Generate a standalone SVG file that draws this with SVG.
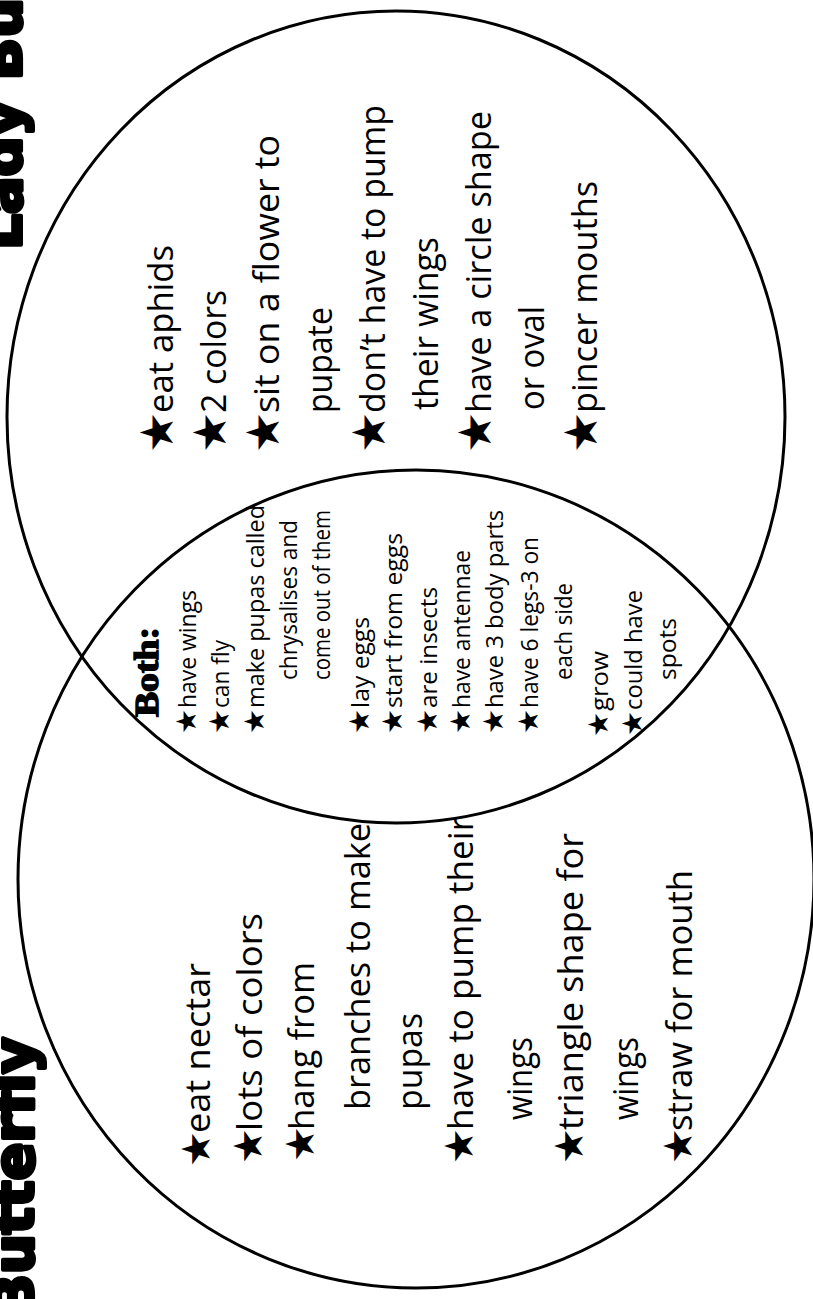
<svg xmlns="http://www.w3.org/2000/svg" width="813" height="1299" viewBox="0 0 813 1299">
<style>
.c{fill:none;stroke:#000;stroke-width:3}
.t{font-family:"Open Sans","Noto Sans",sans-serif;font-size:34px;fill:#000}
.s{font-family:"DejaVu Sans",sans-serif;fill:#000}
.su{font-size:46px}
.sl{font-size:40px}
.sb{font-size:28px}
.b{font-family:"Open Sans","Noto Sans",sans-serif;font-size:24px;fill:#000}
.h{font-family:"Liberation Serif","DejaVu Serif",serif;font-weight:bold;font-size:34px;fill:#000;stroke:#000;stroke-width:1.5}
.ti{font-family:"DejaVu Sans",sans-serif;font-weight:bold;font-size:56px;fill:#000;stroke:#000;stroke-width:4;stroke-linejoin:round}
</style>
<rect width="813" height="1299" fill="#fff"/>
<g id="titles">
<text class="ti" transform="translate(21 250) rotate(-90)">Lady Bug</text>
<text class="ti" text-anchor="end" transform="translate(33 1037) rotate(-90)">Butterfly</text>
</g>
<g id="connectors">
<ellipse id="circle-ladybug" class="c" cx="396" cy="417" rx="389" ry="406"/>
<ellipse id="circle-butterfly" class="c" cx="416" cy="879" rx="398" ry="409"/>
</g>
<g id="ladybug">
<text class="s su" transform="translate(173 453) rotate(-90)">★</text>
<text class="t" transform="translate(173 413) rotate(-90)" textLength="168" lengthAdjust="spacingAndGlyphs">eat aphids</text>
<text class="s su" transform="translate(226 453) rotate(-90)">★</text>
<text class="t" transform="translate(226 413) rotate(-90)" textLength="123" lengthAdjust="spacingAndGlyphs">2 colors</text>
<text class="s su" transform="translate(279 453) rotate(-90)">★</text>
<text class="t" transform="translate(279 413) rotate(-90)" textLength="278" lengthAdjust="spacingAndGlyphs">sit on a flower to</text>
<text class="t" transform="translate(332 413) rotate(-90)" textLength="106" lengthAdjust="spacingAndGlyphs">pupate</text>
<text class="s su" transform="translate(385 453) rotate(-90)">★</text>
<text class="t" transform="translate(385 413) rotate(-90)" textLength="308" lengthAdjust="spacingAndGlyphs">don’t have to pump</text>
<text class="t" transform="translate(438 410) rotate(-90)" textLength="173" lengthAdjust="spacingAndGlyphs">their wings</text>
<text class="s su" transform="translate(491 453) rotate(-90)">★</text>
<text class="t" transform="translate(491 413) rotate(-90)" textLength="302" lengthAdjust="spacingAndGlyphs">have a circle shape</text>
<text class="t" transform="translate(544 410) rotate(-90)" textLength="104" lengthAdjust="spacingAndGlyphs">or oval</text>
<text class="s su" transform="translate(597 453) rotate(-90)">★</text>
<text class="t" transform="translate(597 413) rotate(-90)" textLength="232" lengthAdjust="spacingAndGlyphs">pincer mouths</text>
</g>
<g id="both">
<text class="h" transform="translate(158 717) rotate(-90)" textLength="90" lengthAdjust="spacingAndGlyphs">Both:</text>
<text class="s sb" transform="translate(196 734) rotate(-90)">★</text>
<text class="b" transform="translate(196 708) rotate(-90)" textLength="118" lengthAdjust="spacingAndGlyphs">have wings</text>
<text class="s sb" transform="translate(229 734) rotate(-90)">★</text>
<text class="b" transform="translate(229 708) rotate(-90)" textLength="68" lengthAdjust="spacingAndGlyphs">can fly</text>
<text class="s sb" transform="translate(264 734) rotate(-90)">★</text>
<text class="b" transform="translate(264 708) rotate(-90)" textLength="203" lengthAdjust="spacingAndGlyphs">make pupas called</text>
<text class="b" transform="translate(297 680) rotate(-90)" textLength="160" lengthAdjust="spacingAndGlyphs">chrysalises and</text>
<text class="b" transform="translate(330 680) rotate(-90)" textLength="170" lengthAdjust="spacingAndGlyphs">come out of them</text>
<text class="s sb" transform="translate(369 734) rotate(-90)">★</text>
<text class="b" transform="translate(369 708) rotate(-90)" textLength="91" lengthAdjust="spacingAndGlyphs">lay eggs</text>
<text class="s sb" transform="translate(402 734) rotate(-90)">★</text>
<text class="b" transform="translate(402 708) rotate(-90)" textLength="175" lengthAdjust="spacingAndGlyphs">start from eggs</text>
<text class="s sb" transform="translate(437 734) rotate(-90)">★</text>
<text class="b" transform="translate(437 708) rotate(-90)" textLength="121" lengthAdjust="spacingAndGlyphs">are insects</text>
<text class="s sb" transform="translate(470 734) rotate(-90)">★</text>
<text class="b" transform="translate(470 708) rotate(-90)" textLength="158" lengthAdjust="spacingAndGlyphs">have antennae</text>
<text class="s sb" transform="translate(503 734) rotate(-90)">★</text>
<text class="b" transform="translate(503 708) rotate(-90)" textLength="198" lengthAdjust="spacingAndGlyphs">have 3 body parts</text>
<text class="s sb" transform="translate(538 734) rotate(-90)">★</text>
<text class="b" transform="translate(538 708) rotate(-90)" textLength="171" lengthAdjust="spacingAndGlyphs">have 6 legs-3 on</text>
<text class="b" transform="translate(572 680) rotate(-90)" textLength="97" lengthAdjust="spacingAndGlyphs">each side</text>
<text class="s sb" transform="translate(608 737) rotate(-90)">★</text>
<text class="b" transform="translate(608 711) rotate(-90)" textLength="60" lengthAdjust="spacingAndGlyphs">grow</text>
<text class="s sb" transform="translate(642 736) rotate(-90)">★</text>
<text class="b" transform="translate(642 710) rotate(-90)" textLength="120" lengthAdjust="spacingAndGlyphs">could have</text>
<text class="b" transform="translate(676 680) rotate(-90)" textLength="62" lengthAdjust="spacingAndGlyphs">spots</text>
</g>
<g id="butterfly">
<text class="s sl" transform="translate(210 1167) rotate(-90)">★</text>
<text class="t" transform="translate(210 1133) rotate(-90)" textLength="170" lengthAdjust="spacingAndGlyphs">eat nectar</text>
<text class="s sl" transform="translate(262 1164) rotate(-90)">★</text>
<text class="t" transform="translate(262 1131) rotate(-90)" textLength="218" lengthAdjust="spacingAndGlyphs">lots of colors</text>
<text class="s sl" transform="translate(314 1162) rotate(-90)">★</text>
<text class="t" transform="translate(314 1130) rotate(-90)" textLength="168" lengthAdjust="spacingAndGlyphs">hang from</text>
<text class="t" transform="translate(370 1110) rotate(-90)" textLength="287" lengthAdjust="spacingAndGlyphs">branches to make</text>
<text class="t" transform="translate(422 1110) rotate(-90)" textLength="97" lengthAdjust="spacingAndGlyphs">pupas</text>
<text class="s sl" transform="translate(473 1164) rotate(-90)">★</text>
<text class="t" transform="translate(473 1130) rotate(-90)" textLength="313" lengthAdjust="spacingAndGlyphs">have to pump their</text>
<text class="t" transform="translate(532 1120) rotate(-90)" textLength="83" lengthAdjust="spacingAndGlyphs">wings</text>
<text class="s sl" transform="translate(583 1164) rotate(-90)">★</text>
<text class="t" transform="translate(583 1130) rotate(-90)" textLength="297" lengthAdjust="spacingAndGlyphs">triangle shape for</text>
<text class="t" transform="translate(638 1120) rotate(-90)" textLength="83" lengthAdjust="spacingAndGlyphs">wings</text>
<text class="s sl" transform="translate(692 1164) rotate(-90)">★</text>
<text class="t" transform="translate(692 1131) rotate(-90)" textLength="261" lengthAdjust="spacingAndGlyphs">straw for mouth</text>
</g>
</svg>
